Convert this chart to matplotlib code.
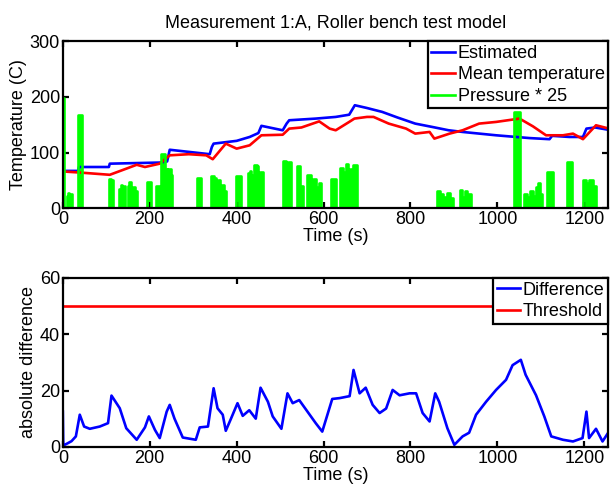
import numpy as np
import matplotlib; matplotlib.use("Agg"); import matplotlib.pyplot as plt

plt.rcParams["font.family"] = ["Liberation Sans", "DejaVu Sans"]
plt.rcParams["font.size"] = 13

# estimated temperature (C)
est_t = [0, 35, 37, 106, 108, 223, 240, 246, 338, 343, 347, 400, 430, 450, 457, 506, 515, 521, 582, 628,
         659, 672, 700, 735, 770, 811, 850, 888, 920, 997, 1074, 1120, 1126, 1166, 1197, 1205, 1225, 1255]
est_v = [67, 67, 74, 74, 80, 82, 84, 105, 97, 110, 116, 121, 128, 135, 148, 140, 152, 158, 161, 164,
         168, 185, 180, 173, 163, 152, 146, 140, 137, 131, 126, 124, 130, 128, 128, 143, 145, 141]
# mean measured temperature (C)
mean_t = [0, 40, 108, 146, 170, 189, 223, 246, 290, 330, 345, 375, 400, 430, 457, 506, 521, 549, 590, 614,
          628, 659, 671, 700, 715, 750, 790, 811, 844, 855, 890, 920, 958, 997, 1051, 1082, 1112, 1151,
          1174, 1197, 1227, 1257]
mean_v = [66, 64, 60, 71, 78, 74, 80, 95, 97, 95, 88, 116, 107, 113, 131, 132, 143, 145, 156, 143,
          140, 155, 161, 164, 164, 152, 143, 134, 137, 125, 134, 140, 152, 155, 161, 147, 131, 131,
          134, 124, 149, 143]
# brake pressure (bar), step samples
press_t = [0, 3, 9, 13, 15, 20, 36, 44, 106, 110, 116, 130, 134, 137, 141, 144, 149, 152, 156, 160, 162,
           166, 170, 193, 202, 215, 223, 225, 235, 240, 243, 248, 252, 308, 317, 342, 347, 353, 358, 362, 366,
           371, 376, 398, 409, 425, 431, 434, 436, 440, 447, 450, 453, 460, 506, 513, 519, 526, 538, 545, 552, 563, 570,
           576, 583, 590, 595, 618, 628, 637, 645, 652, 656, 660, 668, 676, 862, 868, 875, 883, 890, 897, 913, 918,
           925, 930, 940, 1039, 1053, 1062, 1068, 1075, 1082, 1088, 1094, 1099, 1103, 1115, 1129, 1161, 1172, 1198, 1205, 1212,
           1219, 1228]
press_v = [7.9, 0, 0.9, 1.1, 1.0, 0, 6.7, 0, 2.1, 2.0, 0, 1.4, 1.7, 1.2, 1.6, 0, 1.6, 1.9, 1.4, 0, 1.5,
           1.2, 0, 1.9, 0, 1.6, 0, 3.9, 2.8, 2.2, 2.8, 2.4, 0, 2.2, 0, 2.3, 2.2, 1.8, 2.0, 1.5, 1.7,
           1.2, 0, 2.3, 0, 2.5, 2.7, 0, 2.4, 3.1, 3.0, 0, 2.6, 0, 3.4, 3.2, 3.3, 0, 3.0, 1.6, 0, 2.4, 1.8,
           2.1, 1.5, 1.8, 0, 2.1, 0, 2.9, 2.6, 3.2, 0, 2.8, 3.1, 0, 1.2, 1.0, 0.8, 1.1, 0.7, 0, 1.3, 0.8,
           1.2, 1.0, 0, 6.9, 0, 1.0, 0.8, 1.2, 0.9, 1.5, 1.8, 1.0, 0, 2.6, 0, 3.3, 0, 2.0, 1.8, 2.0,
           1.6, 0]
press_scale = 25

# |estimated - mean| and alarm threshold
diff_t = [0, 1, 8, 20, 30, 39, 49, 62, 85, 104, 112, 131, 146, 170, 189, 198, 212, 223, 239, 246,
          257, 276, 306, 315, 334, 347, 356, 368, 375, 387, 402, 414, 429, 444, 455, 472, 483, 503, 517, 529,
          544, 563, 582, 597, 620, 637, 660, 669, 683, 697, 713, 729, 744, 759, 775, 798, 813, 828, 844, 857,
          866, 885, 901, 920, 935, 951, 974, 997, 1020, 1035, 1054, 1065, 1089, 1108, 1124, 1151, 1174, 1196, 1205, 1211,
          1227, 1242, 1255]
diff_v = [12.5, 0.5, 1.0, 2.0, 3.7, 11.4, 7.2, 6.4, 7.2, 8.4, 18.2, 13.7, 6.6, 2.5, 6.9, 10.8, 6.0, 3.1, 12.5, 14.9,
          10.0, 3.3, 2.5, 6.9, 7.2, 20.8, 13.7, 11.4, 5.7, 10.0, 15.5, 11.0, 13.0, 10.0, 21.0, 16.0, 10.8, 6.4, 19.0, 15.5,
          16.6, 12.5, 8.4, 5.4, 17.0, 17.3, 18.0, 27.3, 19.0, 21.0, 14.9, 12.0, 13.6, 20.2, 18.3, 19.0, 19.0, 12.0, 9.0, 19.0,
          16.0, 6.6, 0.7, 3.7, 5.0, 11.4, 16.0, 20.2, 23.8, 29.0, 30.9, 25.6, 18.3, 10.8, 3.7, 2.5, 1.9, 3.1, 12.5, 3.1,
          6.4, 1.9, 5.0]
threshold = 50
t_end = 1255

BLUE, RED, GREEN = (0, 0, 1), (1, 0, 0), (0, 1, 0)
LW = 1.9

def style(ax):
    for s in ax.spines.values():
        s.set_linewidth(1.6)
    ax.tick_params(direction="in", length=4, width=1.6, top=True, right=True, pad=2)
    ax.set_xlim(0, t_end)
    ax.set_xticks([0, 200, 400, 600, 800, 1000, 1200])
    ax.set_xlabel("Time (s)", labelpad=0)

fig = plt.figure(figsize=(6.1, 4.91), dpi=100)
ax1 = fig.add_axes([0.103, 0.576, 0.894, 0.340])
ax2 = fig.add_axes([0.103, 0.090, 0.894, 0.344])

pv = np.array(press_v) * press_scale
ax1.fill_between(press_t, 0, pv, step="post", color=GREEN, lw=0)
ax1.plot(est_t, est_v, color=BLUE, lw=LW, label="Estimated")
ax1.plot(mean_t, mean_v, color=RED, lw=LW, label="Mean temperature")
ax1.step(press_t, pv, where="post", color=GREEN, lw=LW, label="Pressure * %d" % press_scale)
ax1.set_ylim(0, 300)
ax1.set_yticks([0, 100, 200, 300])
ax1.set_ylabel("Temperature (C)", labelpad=2)
ax1.set_title("Measurement 1:A, Roller bench test model", fontsize=13, pad=10)
style(ax1)

ax2.plot(diff_t, diff_v, color=BLUE, lw=LW, label="Difference")
ax2.plot([0, t_end], [threshold, threshold], color=RED, lw=LW, label="Threshold")
ax2.set_ylim(0, 60)
ax2.set_yticks([0, 20, 40, 60])
ax2.set_ylabel("absolute difference", labelpad=2)
style(ax2)

for ax in (ax1, ax2):
    leg = ax.legend(loc="upper right", borderaxespad=0, fancybox=False, framealpha=1,
                    edgecolor="black", handlelength=1.3, handletextpad=0.15,
                    labelspacing=0.25, borderpad=0.2, fontsize=13)
    leg.get_frame().set_linewidth(1.6)

fig.savefig("out.png", dpi=100)
